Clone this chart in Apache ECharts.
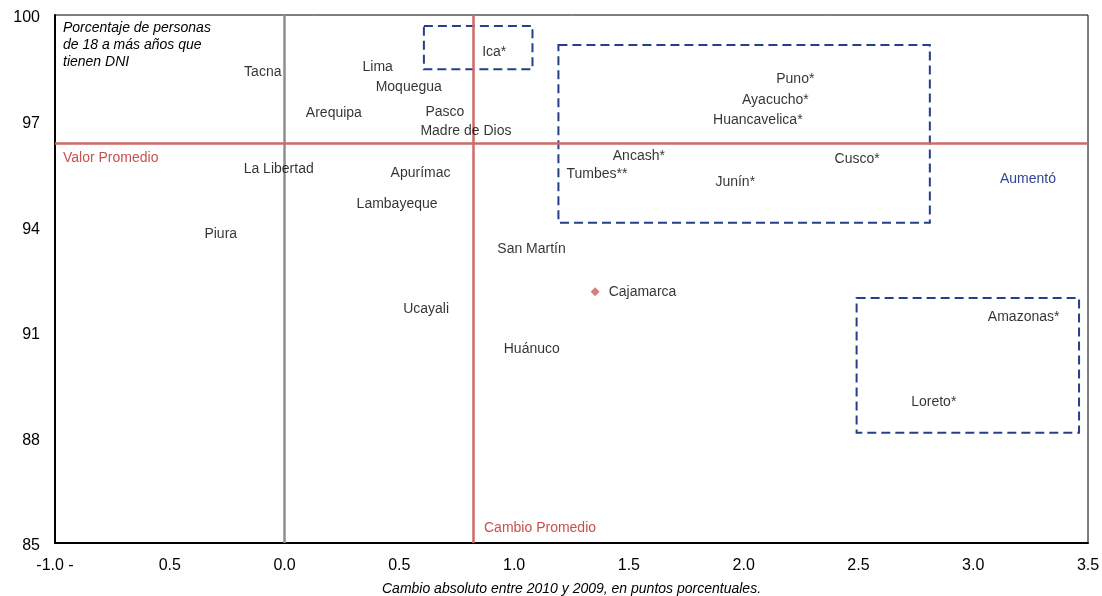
<!DOCTYPE html>
<html>
<head>
<meta charset="utf-8">
<script src="https://cdn.jsdelivr.net/npm/echarts@6/dist/echarts.min.js"></script>
<style>
html,body{margin:0;padding:0;background:#fff;}
#c{width:1102px;height:596px;}
</style>
</head>
<body>
<div id="c"></div>
<script>
// ---- data ----
const regions = ['Tacna','Lima','Moquegua','Arequipa','Pasco','Madre de Dios','Ica*','La Libertad','Apurímac','Lambayeque','Piura','San Martín','Ucayali','Huánuco','Cajamarca','Puno*','Ayacucho*','Huancavelica*','Ancash*','Tumbes**','Junín*','Cusco*','Amazonas*','Loreto*'];
const cambio = [-0.235,0.281,0.338,0.034,0.555,0.533,0.802,-0.237,0.403,0.255,-0.408,0.868,0.458,0.896,1.353,2.083,1.934,1.808,1.371,1.169,1.818,2.337,3.005,2.671];
const porcentaje = [98.39,98.52,97.95,97.21,97.25,96.71,98.94,95.62,95.51,94.63,93.77,93.35,91.64,90.51,92.14,98.18,97.57,97.0,96.0,95.48,95.24,95.91,91.43,89.01];
const markedRegions = ['Cajamarca'];
const valorPromedio = 96.36;
const cambioPromedio = 0.822;
// dashed groups: [xMin, yMin, xMax, yMax]
const groupBoxes = [
  [0.607, 98.46, 1.080, 99.69],
  [1.193, 94.10, 2.811, 99.15],
  [2.492, 88.13, 3.461, 91.96]
];
const xTickLabels = ['-1.0 -','0.5','0.0','0.5','1.0','1.5','2.0','2.5','3.0','3.5'];
const yTicks = [85,88,91,94,97,100];

const FONT = "'Liberation Sans', Arial, sans-serif";
const RED = '#CF6A66';
const BLUE = '#243F8C';

const chart = echarts.init(document.getElementById('c'));

const pts = regions.map((n,i)=>({
  name:n,
  value:[cambio[i],porcentaje[i]],
  itemStyle: markedRegions.includes(n) ? {color:'#CC5F5A'} : {color:'rgba(0,0,0,0)'}
}));

chart.setOption({
  animation:false,
  backgroundColor:'#fff',
  grid:{left:55,right:14,top:15,bottom:53,show:true,borderColor:'#000',borderWidth:1,
        outerBoundsMode:'none',containLabel:false},
  xAxis:{
    type:'value',min:-1,max:3.5,interval:0.5,
    splitLine:{show:false},
    axisTick:{show:false},
    axisLine:{show:true,onZero:false,lineStyle:{color:'#000',width:2}},
    axisLabel:{color:'#000',fontSize:16,fontFamily:FONT,margin:15,
      formatter:function(v){const i=Math.round((v+1)/0.5);return xTickLabels[i]!==undefined?xTickLabels[i]:'';}},
    name:'Cambio absoluto entre 2010 y 2009, en puntos porcentuales.',
    nameLocation:'middle',nameGap:39,
    nameTextStyle:{color:'#000',fontSize:14,fontStyle:'italic',fontFamily:FONT}
  },
  yAxis:{
    type:'value',min:yTicks[0],max:yTicks[yTicks.length-1],interval:3,
    splitLine:{show:false},
    axisTick:{show:false},
    axisLine:{show:true,onZero:false,lineStyle:{color:'#000',width:2}},
    axisLabel:{color:'#000',fontSize:16,fontFamily:FONT,margin:15,
      formatter:function(v){return '{a|'+v+'}';},
      rich:{a:{color:'#000',fontSize:16,fontFamily:FONT,padding:[6,0,0,0]}}}
  },
  series:[
    {
      type:'scatter',
      symbol:'diamond',symbolSize:9,
      data:pts,
      z:5,
      label:{show:true,position:'right',distance:9,formatter:'{b}',color:'#000',fontSize:14,fontFamily:FONT},
      markLine:{
        silent:true,symbol:'none',
        label:{show:false},
        data:[
          {xAxis:0,lineStyle:{color:'#8E8E8E',width:2.5,type:'solid'}},
          {xAxis:cambioPromedio,lineStyle:{color:RED,width:2.5,type:'solid'}},
          {yAxis:valorPromedio,lineStyle:{color:RED,width:2.5,type:'solid'}}
        ]
      },
      markArea:{
        silent:true,
        itemStyle:{color:'rgba(0,0,0,0)',borderColor:BLUE,borderWidth:2,borderType:[9,5]},
        data:groupBoxes.map(b=>[{coord:[b[0],b[3]]},{coord:[b[2],b[1]]}])
      }
    }
  ],
  graphic:[
    {type:'text',left:63,top:20,style:{text:'Porcentaje de personas\nde 18 a más años que\ntienen DNI',fill:'#000',font:'italic 14px '+FONT,lineHeight:16.7}},
    {type:'text',left:63,top:151,style:{text:'Valor Promedio',fill:'#C9504C',font:'14px '+FONT}},
    {type:'text',left:484,top:521,style:{text:'Cambio Promedio',fill:'#C9504C',font:'14px '+FONT}},
    {type:'text',left:1000,top:172,style:{text:'Aumentó',fill:'#2F4590',font:'14px '+FONT}}
  ]
});
</script>
</body>
</html>
